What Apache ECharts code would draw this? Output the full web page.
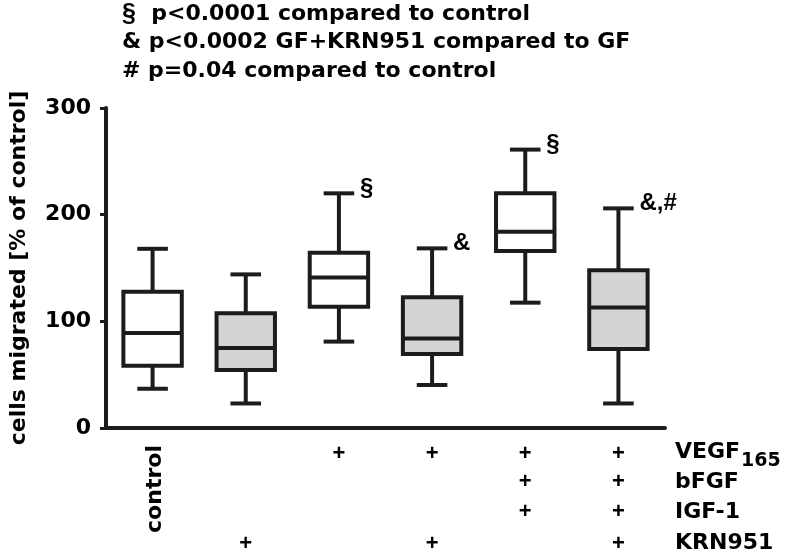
<!DOCTYPE html>
<html>
<head>
<meta charset="utf-8">
<script src="https://cdn.jsdelivr.net/npm/echarts@6/dist/echarts.min.js"></script>
<style>
  html, body { margin: 0; padding: 0; background: #fff; }
  #chart { width: 793px; height: 555px; }
</style>
</head>
<body>
<div id="chart"></div>
<script>
// ---- data ----
const categories = ['control', 'KRN951', 'VEGF165', 'VEGF165+KRN951', 'GF', 'GF+KRN951'];
const whiskerLow  = [36.8, 23.0, 81.0, 40.3, 117.5, 23.0];
const q1          = [58.4, 54.4, 113.7, 69.4, 165.9, 74.0];
const median      = [89.0, 75.0, 141.2, 84.0, 184.0, 113.0];
const q3          = [127.8, 107.5, 164.3, 122.5, 220.0, 148.0];
const whiskerHigh = [168.0, 144.0, 220.0, 168.4, 261.0, 205.9];
const shaded      = [false, true, false, true, false, true];
const significance = ['', '', '§', '&', '§', '&,#'];
const yTicks = [0, 100, 200, 300];

// treatment table below the axis
const rowLabels = ['VEGF', 'bFGF', 'IGF-1', 'KRN951'];
const rowVEGF   = ['', '', '+', '+', '+', '+'];
const rowBFGF   = ['', '', '', '', '+', '+'];
const rowIGF    = ['', '', '', '', '+', '+'];
const rowKRN    = ['', '+', '', '+', '', '+'];
const controlLabel = ['control', '', '', '', '', ''];

const noteSymbols = ['§', '&', '#'];
const noteTexts = [
  '  p<0.0001 compared to control',
  ' p<0.0002 GF+KRN951 compared to GF',
  ' p=0.04 compared to control'
];
const yAxisName = 'cells migrated [% of control]';

// ---- styling ----
const INK = '#1c1c1c';
const GRAY = '#d4d4d4';
const FONT = '"DejaVu Sans", "Liberation Sans", Arial, sans-serif';
const FONT2 = '"Liberation Sans", Arial, sans-serif';

const tableRows = [rowVEGF, rowBFGF, rowIGF, rowKRN];
const rowOffsets = [26, 54, 84, 116];

const boxData = categories.map((c, i) => [i, whiskerLow[i], q1[i], median[i], q3[i], whiskerHigh[i]]);

function renderBox(params, api) {
  const i = api.value(0);
  const cx = api.coord([i, 0])[0];
  const yy = k => api.coord([i, api.value(k)])[1];
  const yl = yy(1), y1 = yy(2), ym = yy(3), y3 = yy(4), yh = yy(5);
  const hw = 29.2, cw = 15.3;
  const st = { stroke: INK, lineWidth: 4, lineCap: 'butt' };
  const children = [
    { type: 'line', shape: { x1: cx, y1: yh, x2: cx, y2: y3 }, style: st },
    { type: 'line', shape: { x1: cx, y1: y1, x2: cx, y2: yl }, style: st },
    { type: 'line', shape: { x1: cx - cw, y1: yh, x2: cx + cw, y2: yh }, style: st },
    { type: 'line', shape: { x1: cx - cw, y1: yl, x2: cx + cw, y2: yl }, style: st },
    { type: 'rect', shape: { x: cx - hw, y: y3, width: 2 * hw, height: y1 - y3 },
      style: { fill: shaded[i] ? GRAY : '#ffffff', stroke: INK, lineWidth: 4 } },
    { type: 'line', shape: { x1: cx - hw, y1: ym, x2: cx + hw, y2: ym }, style: st }
  ];
  if (significance[i]) {
    children.push({
      type: 'text', x: cx + 21, y: yh - 5,
      style: { text: significance[i], fontFamily: FONT2, fontWeight: 'bold', fontSize: 24,
               fill: '#000', align: 'left', verticalAlign: 'middle' }
    });
  }
  return { type: 'group', children };
}

function renderTable(params, api) {
  const i = api.value(0);
  const p = api.coord([i, 0]);
  const cx = p[0], base = p[1];
  const children = [];
  tableRows.forEach((row, r) => {
    if (row[i]) {
      children.push({
        type: 'text', x: cx, y: base + rowOffsets[r],
        style: { text: row[i], fontFamily: FONT2, fontWeight: 'bold',
                 fontSize: 22, fill: '#000', align: 'center', verticalAlign: 'middle' }
      });
    }
  });
  if (controlLabel[i]) {
    children.push({
      type: 'text', x: cx + 3, y: base + 61, rotation: Math.PI / 2,
      style: { text: controlLabel[i], fontFamily: FONT, fontWeight: 'bold', fontSize: 22,
               fill: '#000', align: 'center', verticalAlign: 'middle' }
    });
  }
  return { type: 'group', children };
}

const graphic = [];
noteTexts.forEach((t, k) => {
  const isSection = noteSymbols[k] === '§';
  graphic.push({
    type: 'text', x: 122, y: 14 + k * 28.5,
    style: {
      text: '{s|' + noteSymbols[k] + '}{t|' + t + '}',
      fill: '#000', align: 'left', verticalAlign: 'middle',
      rich: {
        s: { fontFamily: isSection ? FONT2 : FONT, fontWeight: 'bold', fontSize: isSection ? 25 : 22, fill: '#000' },
        t: { fontFamily: FONT, fontWeight: 'bold', fontSize: 22, fill: '#000' }
      }
    }
  });
});
const rowLabelY = [452, 482, 512, 543];
rowLabels.forEach((t, k) => {
  graphic.push({
    type: 'text', x: 675, y: rowLabelY[k],
    style: { text: t, fontFamily: FONT, fontWeight: 'bold', fontSize: 22, fill: '#000',
             align: 'left', verticalAlign: 'middle' }
  });
});
graphic.push({
  type: 'text', x: 741, y: 461,
  style: { text: '165', fontFamily: FONT, fontWeight: 'bold', fontSize: 19, fill: '#000',
           align: 'left', verticalAlign: 'middle' }
});

const chart = echarts.init(document.getElementById('chart'), null, { renderer: 'canvas' });
chart.setOption({
  animation: false,
  backgroundColor: '#ffffff',
  grid: { left: 102, right: 128, top: 108, bottom: 127, containLabel: false },
  xAxis: {
    type: 'category',
    data: categories,
    boundaryGap: true,
    axisLine: { show: true, lineStyle: { color: INK, width: 4 } },
    axisTick: { show: false },
    axisLabel: { show: false },
    splitLine: { show: false }
  },
  yAxis: {
    type: 'value',
    min: yTicks[0],
    max: yTicks[yTicks.length - 1],
    interval: yTicks[1] - yTicks[0],
    name: yAxisName,
    nameLocation: 'middle',
    nameGap: 76,
    nameTextStyle: { fontFamily: FONT, fontWeight: 'bold', fontSize: 22, color: '#000' },
    axisLine: { show: true, lineStyle: { color: INK, width: 4 } },
    axisTick: { show: true, length: 6, lineStyle: { color: INK, width: 3 } },
    axisLabel: { fontFamily: FONT, fontWeight: 'bold', fontSize: 22, color: '#000', margin: 15 },
    splitLine: { show: false }
  },
  graphic: graphic,
  series: [
    {
      type: 'custom',
      name: 'boxes',
      renderItem: renderBox,
      data: boxData,
      encode: { x: 0, y: [1, 2, 3, 4, 5] },
      clip: false,
      z: 3
    },
    {
      type: 'custom',
      name: 'table',
      renderItem: renderTable,
      data: categories.map((c, i) => [i, 0]),
      encode: { x: 0, y: 1 },
      clip: false,
      silent: true,
      z: 3
    }
  ]
});
</script>
</body>
</html>
